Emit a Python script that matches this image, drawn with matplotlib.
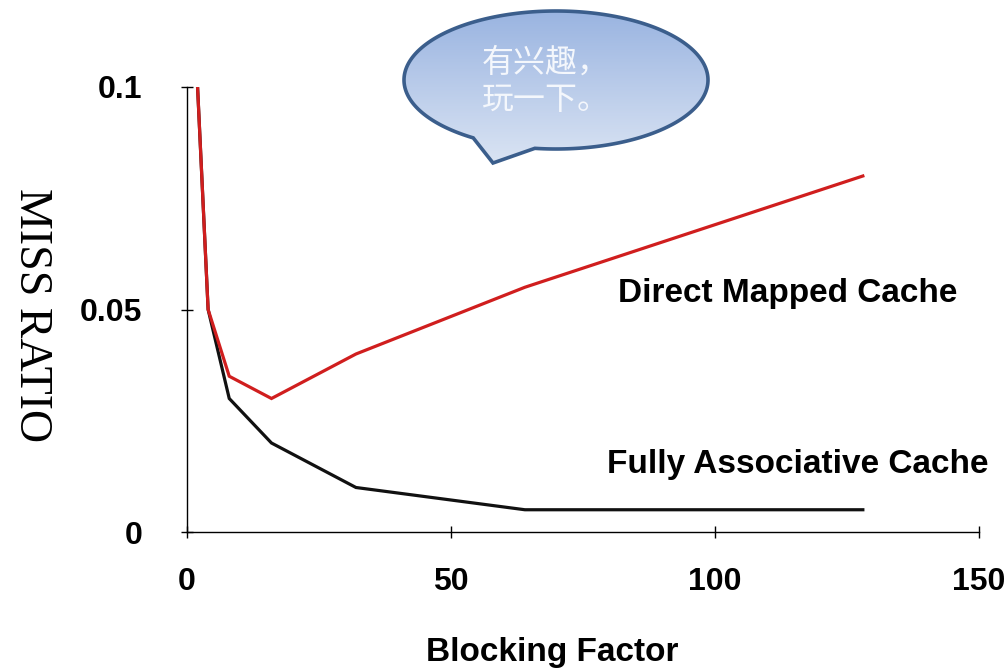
import numpy as np
import matplotlib
matplotlib.use("Agg")
import matplotlib.pyplot as plt
from matplotlib.path import Path
from matplotlib.patches import PathPatch
from matplotlib.colors import LinearSegmentedColormap

# ---- data ----
blocking_factor = [2, 4, 8, 16, 32, 64, 128]
direct_mapped = [0.100, 0.050, 0.035, 0.030, 0.040, 0.055, 0.080]
fully_assoc = [0.100, 0.050, 0.030, 0.020, 0.010, 0.005, 0.005]
x_ticks = [0, 50, 100, 150]
y_ticks = [0, 0.05, 0.1]
y_tick_labels = ["0", "0.05", "0.1"]
series_labels = ["Direct Mapped Cache", "Fully Associative Cache"]
bubble_text = "有兴趣，\n玩一下。"

W, H = 1006, 668
fig = plt.figure(figsize=(W / 100, H / 100), dpi=100)
fig.patch.set_facecolor("white")

ax = fig.add_axes([187 / W, 1 - 532 / H, (979 - 187) / W, (532 - 87) / H])
ax.plot(blocking_factor, fully_assoc, color="#111111", lw=2.3, solid_joinstyle="miter")
ax.plot(blocking_factor, direct_mapped, color="#D01E1E", lw=2.3, solid_joinstyle="miter")
ax.set_xlim(0, 150)
ax.set_ylim(0, 0.1)
ax.set_xticks(x_ticks)
ax.set_xticklabels([str(v) for v in x_ticks])
ax.set_yticks(y_ticks)
ax.set_yticklabels(y_tick_labels)
for s in ("top", "right"):
    ax.spines[s].set_visible(False)
for s in ("left", "bottom"):
    ax.spines[s].set_linewidth(1.0)
ax.tick_params(direction="inout", length=8, width=1.0, labelsize=23)
ax.tick_params(axis="x", pad=21)
ax.tick_params(axis="y", pad=28)
for lab in ax.get_xticklabels() + ax.get_yticklabels():
    lab.set_fontfamily("Liberation Sans")
    lab.set_fontweight("bold")

ax.set_xlabel("Blocking Factor", fontsize=24, fontweight="bold", family="Liberation Sans")
ax.xaxis.set_label_coords((552 - 187) / 792, (532 - 637) / 445)
ax.set_ylabel("MISS RATIO", fontsize=33, family="Liberation Serif", rotation=270,
              va="center", ha="center", rotation_mode="default")
ax.yaxis.set_label_coords((31 - 187) / 792, (532 - 315) / 445)

ax.text(81.6, 0.0537, series_labels[0], fontsize=24, fontweight="bold",
        family="Liberation Sans", ha="left", va="center", clip_on=False)
ax.text(79.5, 0.0151, series_labels[1], fontsize=24, fontweight="bold",
        family="Liberation Sans", ha="left", va="center", clip_on=False)

# ---- speech bubble overlay ----
ov = fig.add_axes([0, 0, 1, 1], facecolor="none")
ov.set_xlim(0, W)
ov.set_ylim(H, 0)
ov.axis("off")
cx, cy, a, b = 556, 80, 152, 69
t0, t1 = np.deg2rad(123), np.deg2rad(360 + 98)
ts = np.linspace(t0, t1, 300)
pts = [(cx + a * np.cos(t), cy + b * np.sin(t)) for t in ts]
pts.append((493, 163))
pts.append(pts[0])
codes = [Path.MOVETO] + [Path.LINETO] * (len(pts) - 2) + [Path.CLOSEPOLY]
path = Path(pts, codes)
grad = np.linspace(0, 1, 256).reshape(-1, 1)
cmap = LinearSegmentedColormap.from_list("bub", ["#97B2E0", "#DDE6F4"])
im = ov.imshow(grad, cmap=cmap, extent=[cx - a - 5, cx + a + 5, 170, 5], aspect="auto", zorder=1)
edge = PathPatch(path, facecolor="none", edgecolor="#3B5E8C", lw=2.6, zorder=2)
clip = PathPatch(path, facecolor="none", edgecolor="none", transform=ov.transData)
ov.add_patch(clip)
im.set_clip_path(clip)
ov.add_patch(edge)
ov.text(482, 81, bubble_text, fontsize=23, color="#F4F7FC", ha="left", va="center",
        family=["Noto Sans CJK SC", "DejaVu Sans"], linespacing=1.2, zorder=3)

fig.savefig("out.png", dpi=100)
